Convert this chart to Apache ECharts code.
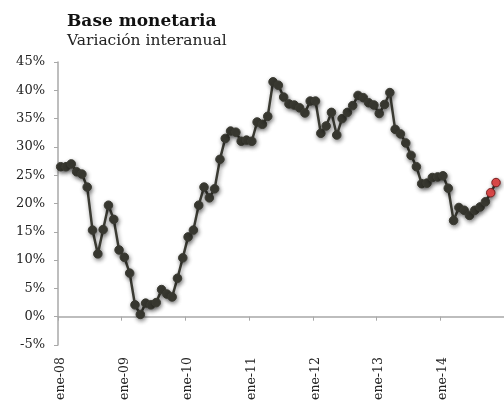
<!DOCTYPE html>
<html>
<head>
<meta charset="utf-8">
<script src="https://cdn.jsdelivr.net/npm/echarts@6/dist/echarts.min.js"></script>
<style>
  html, body { margin: 0; padding: 0; background: #fff; }
  #chart { width: 504px; height: 405px; }
</style>
</head>
<body>
<div id="chart"></div>
<script>
// Monthly categories, Jan 2008 to Dec 2014
const years = ['08', '09', '10', '11', '12', '13', '14'];
const monthAbbr = ['ene', 'feb', 'mar', 'abr', 'may', 'jun', 'jul', 'ago', 'sep', 'oct', 'nov', 'dic'];
const categories = [];
years.forEach(y => monthAbbr.forEach(m => categories.push(m + '-' + y)));

// Year-on-year growth of the monetary base, %
const values = [
  26.5, 26.5, 27.0, 25.6, 25.2, 22.9, 15.3, 11.1, 15.4, 19.7, 17.2, 11.8,
  10.5, 7.7, 2.1, 0.4, 2.4, 2.1, 2.5, 4.8, 4.0, 3.5, 6.8, 10.4,
  14.1, 15.3, 19.7, 22.9, 21.0, 22.6, 27.8, 31.5, 32.8, 32.6, 31.0, 31.2,
  31.0, 34.4, 34.0, 35.4, 41.5, 40.9, 38.8, 37.6, 37.4, 36.9, 36.0, 38.1,
  38.1, 32.4, 33.7, 36.1, 32.1, 35.0, 36.1, 37.3, 39.1, 38.7, 37.8, 37.4,
  35.9, 37.5, 39.6, 33.1, 32.3, 30.7, 28.5, 26.5, 23.5, 23.6, 24.6, 24.7,
  24.9, 22.7, 17.0, 19.3, 18.8, 17.9, 18.8, 19.4, 20.3, 21.9, 23.7
];
// Points drawn as estimates (last months)
const estimatedFrom = 81;

const yTicks = { min: -5, max: 45, interval: 5 };

const font = 'DejaVu Serif';
const dark = '#3b3b33';
const red = '#e64c4c';

const seriesData = values.map((v, i) => i >= estimatedFrom
  ? { value: v, itemStyle: { color: red, borderColor: '#7a2020', borderWidth: 1 } }
  : v);

const chart = echarts.init(document.getElementById('chart'));
chart.setOption({
  animation: false,
  backgroundColor: '#fff',
  title: {
    text: 'Base monetaria',
    subtext: 'Variación interanual',
    left: 67,
    top: 13,
    itemGap: 3,
    padding: 0,
    textStyle: { fontFamily: font, fontSize: 17, fontWeight: 'bold', color: '#111' },
    subtextStyle: { fontFamily: font, fontSize: 15.5, color: '#222' }
  },
  grid: { left: 58, top: 62, bottom: 60, right: -7, containLabel: false },
  xAxis: [
    {
      type: 'category',
      data: categories,
      boundaryGap: true,
      axisLine: { show: false, onZero: false },
      axisTick: { show: false },
      axisLabel: {
        rotate: 90,
        interval: (i) => i % 12 === 0,
        margin: 12,
        fontFamily: font,
        fontSize: 12.5,
        color: '#222'
      }
    },
    {
      type: 'category',
      data: categories,
      boundaryGap: true,
      position: 'bottom',
      axisLine: { show: true, onZero: true, lineStyle: { color: '#a8a8a8', width: 1.5 } },
      axisTick: { show: true, interval: (i) => i % 12 === 0, length: 4, lineStyle: { color: '#a8a8a8' } },
      axisLabel: { show: false }
    }
  ],
  yAxis: {
    type: 'value',
    min: yTicks.min,
    max: yTicks.max,
    interval: yTicks.interval,
    axisLine: { show: true, lineStyle: { color: '#a8a8a8', width: 1.5 } },
    axisTick: { show: true, length: 4, lineStyle: { color: '#a8a8a8' } },
    splitLine: { show: false },
    axisLabel: {
      formatter: '{value}%',
      margin: 13,
      fontFamily: font,
      fontSize: 13,
      color: '#222'
    }
  },
  series: [{
    type: 'line',
    xAxisIndex: 0,
    data: seriesData,
    symbol: 'circle',
    symbolSize: 8.5,
    showAllSymbol: true,
    lineStyle: {
      color: dark, width: 2.5,
      shadowColor: 'rgba(0,0,0,0.45)', shadowBlur: 4, shadowOffsetX: 1, shadowOffsetY: 2
    },
    itemStyle: {
      color: dark, borderColor: dark, borderWidth: 1,
      shadowColor: 'rgba(0,0,0,0.45)', shadowBlur: 4, shadowOffsetX: 1, shadowOffsetY: 2
    },
    emphasis: { disabled: true }
  }]
});
</script>
</body>
</html>
